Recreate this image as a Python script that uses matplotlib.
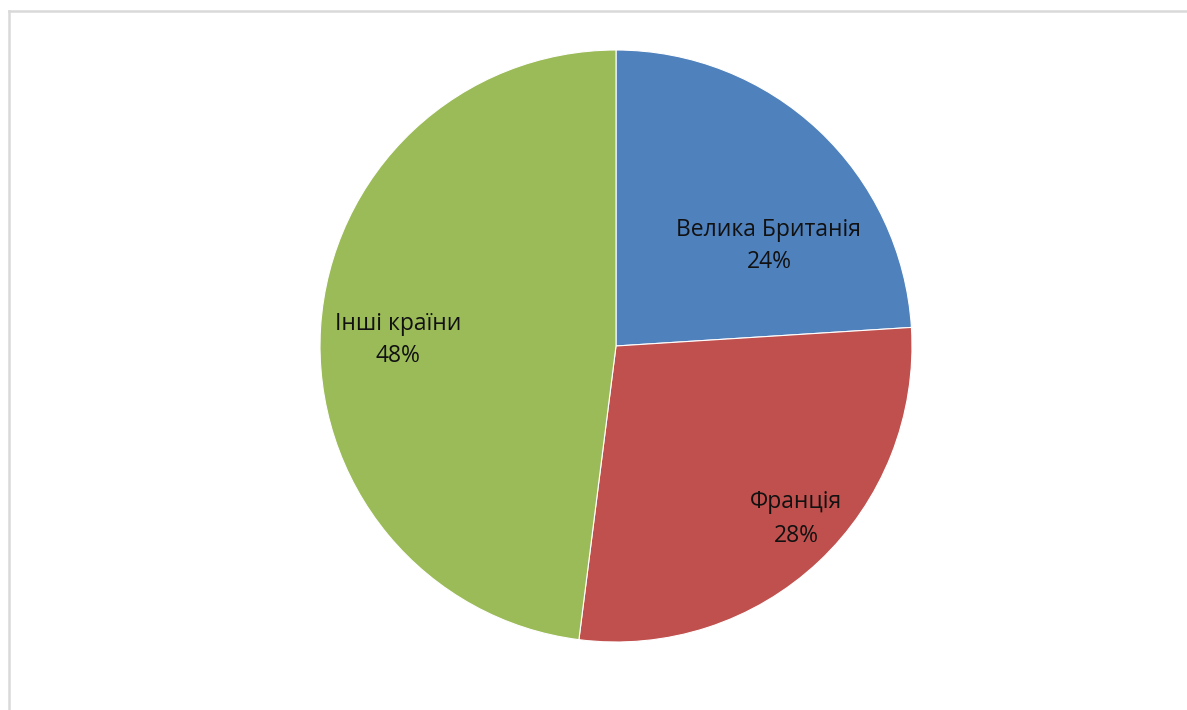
import matplotlib.pyplot as plt
from matplotlib.lines import Line2D

# частки країн
names = ["Велика Британія", "Франція", "Інші країни"]
shares = [24, 28, 48]
colors = ["#4F81BD", "#C0504D", "#9BBB59"]

W, H = 1187, 710
fig = plt.figure(figsize=(W / 100, H / 100), dpi=100)

cx, cy, r = 616, 346, 296
ax = fig.add_axes([(cx - r) / W, (H - cy - r) / H, 2 * r / W, 2 * r / H])
ax.pie(shares, colors=colors, startangle=90, counterclock=False,
       wedgeprops=dict(edgecolor="white", linewidth=0.8))
ax.set_xlim(-1, 1)
ax.set_ylim(-1, 1)
ax.axis("off")

# підписи (назва + відсоток)
label_pos = [(769, 246), (796, 519), (398, 340)]
for name, v, (px, py) in zip(names, shares, label_pos):
    x = (px - cx) / r
    y = (cy - py) / r
    ax.text(x, y, f"{name}\n{v}%", ha="center", va="center",
            fontsize=16.5, family="Open Sans", color="#111111",
            linespacing=1.5)

# рамка
fig.add_artist(Line2D([9.5 / W, 1], [1 - 11 / H, 1 - 11 / H], color="#d9d9d9", lw=1.8))
fig.add_artist(Line2D([9.5 / W, 9.5 / W], [0, 1 - 11 / H], color="#d9d9d9", lw=1.8))

fig.savefig("out.png", dpi=100)
